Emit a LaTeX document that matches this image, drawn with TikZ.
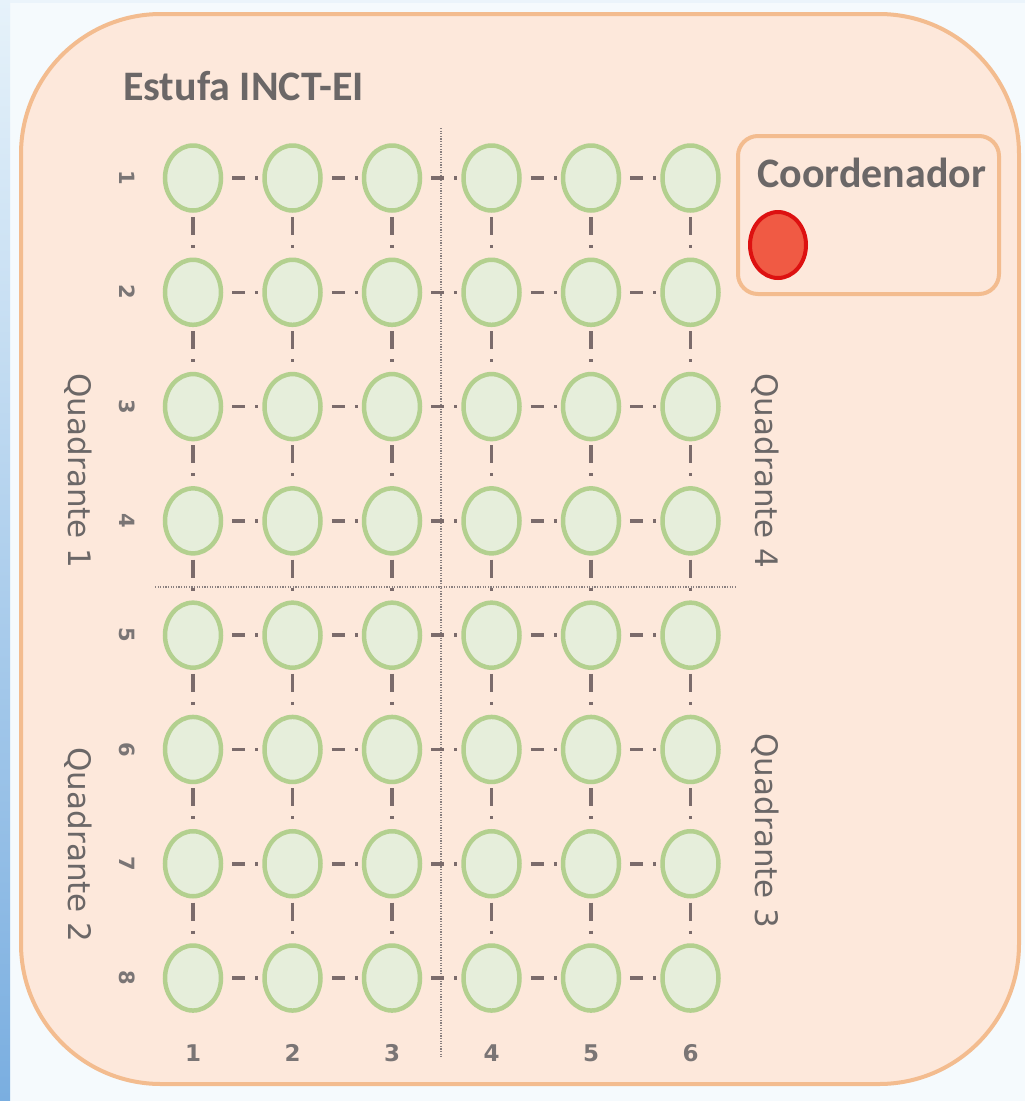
\documentclass[tikz,border=0pt]{standalone}
\usepackage{fontspec}
\setmainfont{Carlito}
\newfontfamily\qfont{DejaVu Sans}
\newfontfamily\numfont{DejaVu Sans}
\usetikzlibrary{shapes.geometric}
\definecolor{bgpale}{HTML}{F5FAFD}
\definecolor{stripTop}{HTML}{E6F2FA}
\definecolor{stripBot}{HTML}{7AAEE0}
\definecolor{boxfill}{HTML}{FDE8DB}
\definecolor{boxline}{HTML}{F3BC8F}
\definecolor{cellfill}{HTML}{E6EEDB}
\definecolor{cellline}{HTML}{B3D08F}
\definecolor{conncol}{HTML}{7B6B6B}
\definecolor{txtgray}{HTML}{6B6767}
\definecolor{numgray}{HTML}{7A7575}
\definecolor{divcol}{HTML}{8A8080}
\definecolor{redfill}{HTML}{F05A44}
\definecolor{redline}{HTML}{DD1111}
\tikzset{
  cell/.style={ellipse, draw=cellline, fill=cellfill, line width=4.5pt, minimum width=56pt, minimum height=65pt, inner sep=0pt},
  hconn/.style={draw=conncol, line width=3.5pt, dash pattern=on 0pt off 9pt on 13pt off 10pt on 3pt off 80pt},
  vconn/.style={draw=conncol, line width=3.5pt, dash pattern=on 0pt off 4pt on 18pt off 10pt on 3pt off 80pt},
  divider/.style={draw=divcol, line width=1.5pt, dash pattern=on 1.2pt off 1.4pt},
  rowlab/.style={text=numgray, font=\numfont\bfseries\fontsize{21}{23}\selectfont, rotate=-90, inner sep=0pt},
  collab/.style={text=numgray, font=\numfont\bfseries\fontsize{23}{25}\selectfont, inner sep=0pt},
  quadlab/.style={text=txtgray, font=\qfont\fontsize{31}{33}\selectfont, rotate=-90, inner sep=0pt},
  bigtext/.style={text=txtgray, font=\bfseries\fontsize{42}{50}\selectfont, inner sep=0pt, anchor=base west},
}
\begin{document}
\begin{tikzpicture}[x=1pt, y=-1pt]
\useasboundingbox (0,0) rectangle (1025,1101);
% background
\fill[bgpale] (0,0) rectangle (1025,1101);
\shade[top color=stripTop, bottom color=stripBot] (0,0) rectangle (10,1101);
\fill[stripTop!70!bgpale] (10,0) rectangle (1025,3);
% main box
\node[draw=boxline, fill=boxfill, line width=4pt, rounded corners=140pt, minimum width=998pt, minimum height=1070pt, inner sep=0pt] (estufa) at (520,549) {};
\node[bigtext] (title) at (123,100) {Estufa INCT-EI};
% coordinator box
\node[draw=boxline, fill=boxfill, line width=4pt, rounded corners=20pt, minimum width=261pt, minimum height=158pt, inner sep=0pt] (coordbox) at (868.5,215) {};
\node[bigtext] (coordtxt) at (757,187) {Coordenador};
\node[ellipse, draw=redline, fill=redfill, line width=4pt, minimum width=56pt, minimum height=66pt, inner sep=0pt] (coord) at (778,245) {};
% dividers
\coordinate (vtop) at (441,128);
\coordinate (vbot) at (441,1057);
\coordinate (hleft) at (155,587);
\coordinate (hright) at (735,587);
\draw[divider] (vtop) -- (vbot);
\draw[divider] (hleft) -- (hright);
% cells
\foreach \r in {1,...,8}{
  \foreach \c in {1,...,6}{
    \node[cell] (n-\r-\c) at ({193+(\c-1)*99.5},{178+(\r-1)*114.29}) {};
  }
}
% connectors
\foreach \r in {1,...,8}{
  \foreach \c [evaluate=\c as \cn using int(\c+1)] in {1,...,5}{
    \draw[hconn] (n-\r-\c) -- (n-\r-\cn);
  }
}
\foreach \r [evaluate=\r as \rn using int(\r+1)] in {1,...,7}{
  \foreach \c in {1,...,6}{
    \draw[vconn] (n-\r-\c) -- (n-\rn-\c);
  }
}
% row labels
\foreach \r in {1,...,8}{
  \node[rowlab] (rl-\r) at (127,{178+(\r-1)*114.29}) {\r};
}
% column labels
\foreach \c in {1,...,6}{
  \node[collab] (cl-\c) at ({193+(\c-1)*99.5},1053) {\c};
}
% quadrant labels
\node[quadlab] (q1) at (78,471) {Quadrante 1};
\node[quadlab] (q2) at (78,845) {Quadrante 2};
\node[quadlab] (q4) at (765,471) {Quadrante 4};
\node[quadlab] (q3) at (765,831) {Quadrante 3};
\end{tikzpicture}
\end{document}
